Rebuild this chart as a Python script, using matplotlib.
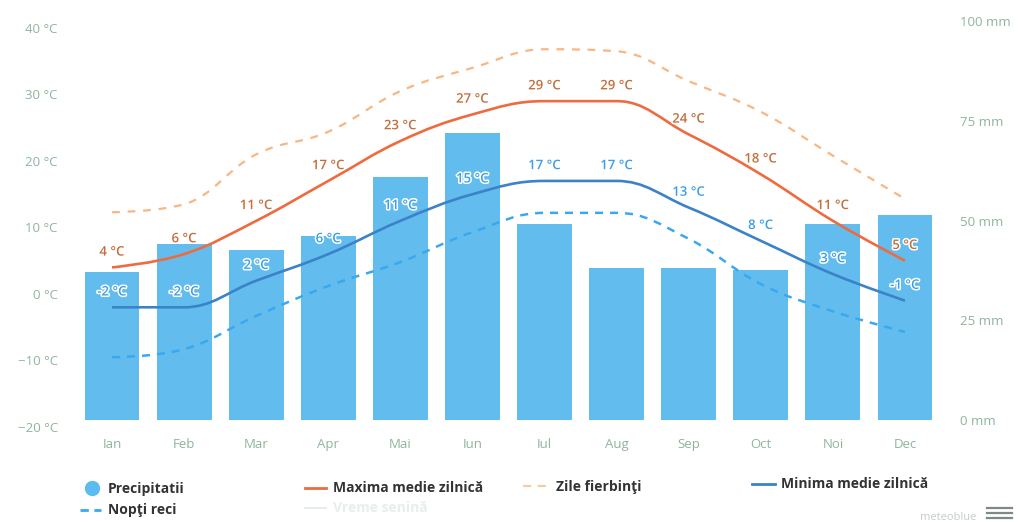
import matplotlib
matplotlib.use('Agg')
import numpy as np
import matplotlib.pyplot as plt
import matplotlib.patheffects as pe
from matplotlib.path import Path
from matplotlib.patches import PathPatch
from matplotlib.lines import Line2D

plt.rcParams['font.family'] = ['Open Sans', 'DejaVu Sans']

# data
months = ['Ian', 'Feb', 'Mar', 'Apr', 'Mai', 'Iun', 'Iul', 'Aug', 'Sep', 'Oct', 'Noi', 'Dec']
precip_mm = [37, 44, 42.5, 46, 61, 72, 49, 38, 38, 37.5, 49, 51.5]
max_temp = [4, 6, 11, 17, 23, 27, 29, 29, 24, 18, 11, 5]
min_temp = [-2, -2, 2, 6, 11, 15, 17, 17, 13, 8, 3, -1]
hot_days = [12.3, 13.5, 21, 24.4, 30.5, 34, 36.8, 36.5, 32, 27.4, 20.8, 14.3]
cold_nights = [-9.5, -8.3, -3.3, 1.2, 4.8, 9.3, 12.2, 12.2, 8.3, 1.5, -2.6, -5.7]
temp_ticks = [-20, -10, 0, 10, 20, 30, 40]
mm_ticks = [0, 25, 50, 75, 100]

TICK_COL = '#8fb49c'


def spline_path(x, y, smoothing=1.5):
    # highcharts-like spline through the points
    n = len(x)
    left = [None] * n
    right = [None] * n
    right[0] = (x[0], y[0])
    left[-1] = (x[-1], y[-1])
    den = smoothing + 1
    for i in range(1, n - 1):
        px, py = x[i], y[i]
        lx, ly = x[i - 1], y[i - 1]
        nx, ny = x[i + 1], y[i + 1]
        lcx = (smoothing * px + lx) / den
        lcy = (smoothing * py + ly) / den
        rcx = (smoothing * px + nx) / den
        rcy = (smoothing * py + ny) / den
        corr = ((rcy - lcy) * (rcx - px)) / (rcx - lcx) + py - rcy
        lcy += corr
        rcy += corr
        if lcy > ly and lcy > py:
            lcy = max(ly, py)
            rcy = 2 * py - lcy
        elif lcy < ly and lcy < py:
            lcy = min(ly, py)
            rcy = 2 * py - lcy
        if rcy > ny and rcy > py:
            rcy = max(ny, py)
            lcy = 2 * py - rcy
        elif rcy < ny and rcy < py:
            rcy = min(ny, py)
            lcy = 2 * py - rcy
        left[i] = (lcx, lcy)
        right[i] = (rcx, rcy)
    verts = [(x[0], y[0])]
    codes = [Path.MOVETO]
    for i in range(1, n):
        verts += [right[i - 1], left[i], (x[i], y[i])]
        codes += [Path.CURVE4] * 3
    return Path(verts, codes)


fig = plt.figure(figsize=(10.2, 5.22), dpi=100)
ax2 = fig.add_axes([76 / 1020, 95 / 522, 865 / 1020, 408 / 522])
ax = ax2.twinx()
ax.yaxis.tick_left()
ax2.yaxis.tick_right()
ax.set_zorder(ax2.get_zorder() + 1)
ax.patch.set_visible(False)

x = np.arange(len(months))

ax2.bar(x, precip_mm, width=0.76, color='#62bdee', zorder=1)
ax2.set_ylim(-1.75, 100.5)
ax.set_ylim(-20, 41.35)
ax2.set_xlim(-0.5, 11.5)

ax.add_patch(PathPatch(spline_path(x, hot_days), fill=False, edgecolor='#f9b683',
                       lw=1.6, linestyle=(0, (3.5, 3.5)), capstyle='butt'))
ax.add_patch(PathPatch(spline_path(x, cold_nights), fill=False, edgecolor='#3aa8ef',
                       lw=1.8, linestyle=(0, (3.2, 2.8)), capstyle='butt'))
ax.add_patch(PathPatch(spline_path(x, max_temp), fill=False, edgecolor='#ee6b3f', lw=1.9))
ax.add_patch(PathPatch(spline_path(x, min_temp), fill=False, edgecolor='#3b82c8', lw=1.9))

halo = [pe.withStroke(linewidth=2.2, foreground='white')]
for i in range(len(months)):
    ax.annotate('{} °C'.format(max_temp[i]), (x[i], max_temp[i]), xytext=(0, 11),
                textcoords='offset points', ha='center', va='center', fontsize=9.5,
                color='#c46e3c', fontweight='semibold', path_effects=halo, zorder=5)
    ax.annotate('{} °C'.format(min_temp[i]), (x[i], min_temp[i]), xytext=(0, 11),
                textcoords='offset points', ha='center', va='center', fontsize=9.5,
                color='#3a9fe6', fontweight='semibold', path_effects=halo, zorder=5)

for a in (ax, ax2):
    for s in a.spines.values():
        s.set_visible(False)

ax.set_yticks(temp_ticks)
ax.set_yticklabels(['{} °C'.format(t).replace('-', '\u2212') for t in temp_ticks])
ax.tick_params(axis='y', length=0, pad=13, labelsize=9.5, labelcolor=TICK_COL)
ax2.set_yticks(mm_ticks)
ax2.set_yticklabels(['{} mm'.format(m) for m in mm_ticks])
ax2.tick_params(axis='y', length=0, pad=14, labelsize=9.5, labelcolor=TICK_COL)
ax2.set_xticks(x)
ax2.set_xticklabels(months)
ax2.tick_params(axis='x', length=0, pad=8, labelsize=9.5, labelcolor=TICK_COL)

# legend drawn by hand
W, H = 1020.0, 522.0


def fx(px):
    return px / W


def fy(py):
    return 1 - py / H


legend_txt = dict(fontsize=10, fontweight='bold', color='#333333', va='center', ha='left')
fig.add_artist(Line2D([fx(92)], [fy(488)], marker='o', markersize=10, color='#5bbcf0',
                      transform=fig.transFigure))
fig.text(fx(108), fy(489), 'Precipitatii', **legend_txt)
fig.add_artist(Line2D([fx(305), fx(326)], [fy(488), fy(488)], color='#ee6b3f', lw=2,
                      transform=fig.transFigure))
fig.text(fx(333), fy(488), 'Maxima medie zilnică', **legend_txt)
fig.add_artist(Line2D([fx(523), fx(550)], [fy(486), fy(486)], color='#f9c9a0', lw=1.5,
                      ls=(0, (4, 3)), transform=fig.transFigure))
fig.text(fx(556), fy(487), 'Zile fierbinţi', **legend_txt)
fig.add_artist(Line2D([fx(752), fx(775)], [fy(484), fy(484)], color='#3b82c8', lw=2,
                      transform=fig.transFigure))
fig.text(fx(781), fy(484), 'Minima medie zilnică', **legend_txt)
fig.add_artist(Line2D([fx(80), fx(101)], [fy(510), fy(510)], color='#3aa8ef', lw=2,
                      ls=(0, (3, 2)), transform=fig.transFigure))
fig.text(fx(108), fy(510), 'Nopţi reci', **legend_txt)
fig.add_artist(Line2D([fx(305), fx(326)], [fy(508), fy(508)], color='#e6ecea', lw=1.5,
                      transform=fig.transFigure))
fig.text(fx(333), fy(508), 'Vreme senină', fontsize=10, fontweight='bold', color='#e8eeec',
         va='center', ha='left')

fig.text(fx(976), fy(518), 'meteoblue', fontsize=8, color='#c4ccc8', ha='right', va='center')
for yy in (508, 513, 518):
    fig.add_artist(Line2D([fx(987), fx(1012)], [fy(yy), fy(yy)], color='#7f8a86', lw=1.6,
                          transform=fig.transFigure))

fig.savefig('out.png', dpi=100)
